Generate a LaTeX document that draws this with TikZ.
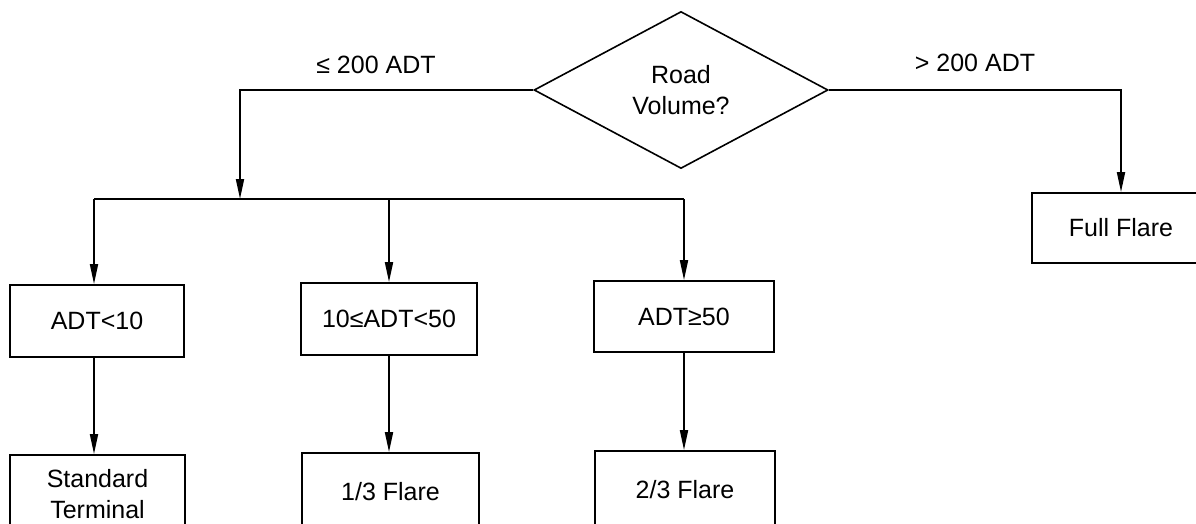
\documentclass[tikz,border=0pt]{standalone}
\usepackage{fontspec}
\setmainfont{Liberation Sans}
\usetikzlibrary{shapes.geometric,arrows.meta}
\begin{document}
\begin{tikzpicture}[x=1pt,y=-1pt,
  every node/.style={font=\fontsize{25}{31}\selectfont, inner sep=0pt, align=center},
  conn/.style={line width=1.8pt},
  arr/.style={conn,-{Triangle[length=20pt,width=8pt]}},
  box/.style={draw,line width=1.8pt,rectangle}]
\useasboundingbox (0,0) rectangle (1196,524);
\node[draw,diamond,line width=1.6pt,minimum width=294pt,minimum height=157pt,aspect=1.87] (rv) at (681,90) {Road\\Volume?};
\node[box,minimum width=174pt,minimum height=72pt] (a) at (97,321) {ADT<10};
\node[box,minimum width=176pt,minimum height=72pt] (b) at (389,319) {10≤ADT<50};
\node[box,minimum width=180pt,minimum height=71pt] (c) at (684,316.5) {ADT≥50};
\node[box,minimum width=178pt,minimum height=70pt] (ff) at (1121,228) {Full Flare};
\node[box,minimum width=175pt,minimum height=78pt] (st) at (97.5,494) {Standard\\Terminal};
\node[box,minimum width=177pt,minimum height=78pt] (f13) at (390.5,492) {1/3 Flare};
\node[box,minimum width=180pt,minimum height=78pt] (f23) at (685,490) {2/3 Flare};
\node (l1) at (376,65) {≤ 200 ADT};
\node (l2) at (975,63) {> 200 ADT};
\coordinate (bl) at (94,199);
\coordinate (bj) at (240,199);
\coordinate (br) at (684,199);
\draw[arr] (rv.west) -| (bj);
\draw[conn] (bl) -- (br);
\draw[arr] (bl) -- (bl |- a.north);
\draw[arr] (b.north |- bl) -- (b.north);
\draw[arr] (br) -- (br |- c.north);
\draw[arr] (rv.east) -| (ff.north);
\draw[arr] (a.south -| bl) -- (bl |- st.north);
\draw[arr] (b.south) -- (b.south |- f13.north);
\draw[arr] (c.south) -- (c.south |- f23.north);
\end{tikzpicture}
\end{document}
